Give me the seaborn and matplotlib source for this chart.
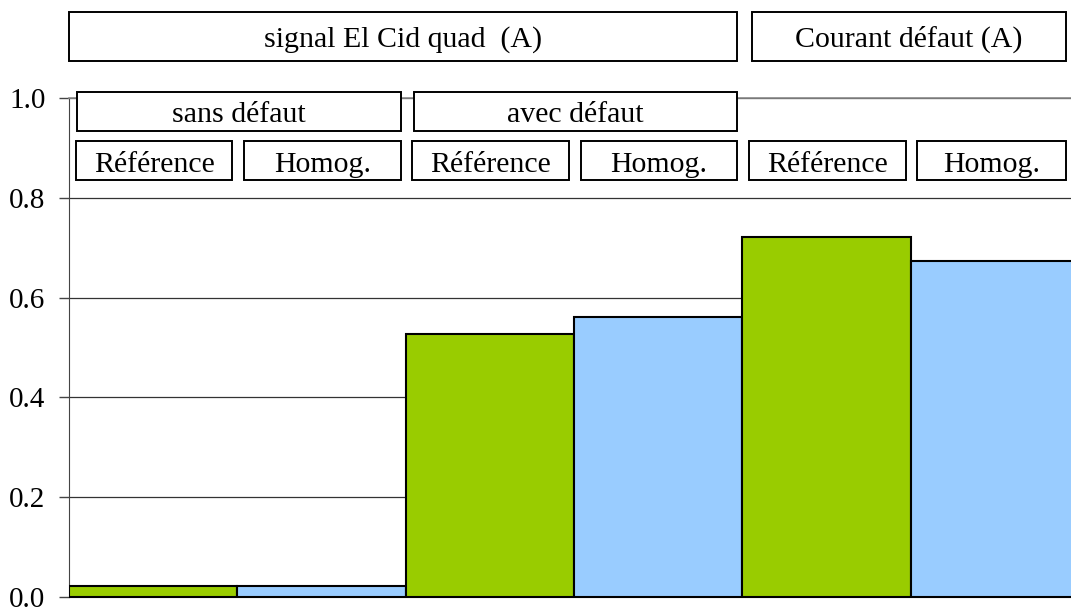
import matplotlib
matplotlib.use("Agg")
import matplotlib.pyplot as plt
import matplotlib.transforms as mtransforms
from matplotlib.patches import Rectangle
import pandas as pd
import seaborn as sns

# Data
bars = ["sd_ref", "sd_hom", "ad_ref", "ad_hom", "cd_ref", "cd_hom"]
values = [0.022, 0.022, 0.527, 0.561, 0.721, 0.674]
bar_colors = ["#99CC00", "#99CCFF", "#99CC00", "#99CCFF", "#99CC00", "#99CCFF"]
sub_labels = ["Référence", "Homog.", "Référence", "Homog.", "Référence", "Homog."]
group_labels = ["sans défaut", "avec défaut"]
top_labels = ["signal El Cid quad  (A)", "Courant défaut (A)"]
y_ticks = [0.0, 0.2, 0.4, 0.6, 0.8, 1.0]

sns.set_style("white")
plt.rcParams["font.family"] = ["Liberation Serif", "DejaVu Serif"]
plt.rcParams["text.color"] = "black"
plt.rcParams["ytick.color"] = "black"

df = pd.DataFrame({"bar": bars, "value": values})

fig = plt.figure(figsize=(10.71, 6.10), dpi=100)
ax = fig.add_axes([69 / 1071, 13 / 610, 1010 / 1071, 499 / 610])

sns.barplot(data=df, x="bar", y="value", hue="bar", palette=bar_colors,
            saturation=1, width=1.0, edgecolor="black", linewidth=1.5,
            legend=False, dodge=False, ax=ax, zorder=3)

ax.set_xlim(-0.5, 5.5)
ax.set_ylim(0, 1.0)
ax.set_yticks(y_ticks)
ax.set_yticklabels([f"{v:.1f}" for v in y_ticks], fontsize=21, color="black")
ax.set_xticks([])
ax.set_xlabel("")
ax.set_ylabel("")
ax.yaxis.grid(True, color="#333333", linewidth=0.9, zorder=0)
ax.set_axisbelow(True)
ax.tick_params(axis="y", direction="out", length=7, width=1, color="#444444",
               pad=10, left=True, labelcolor="black")
ax.spines["right"].set_visible(False)
ax.spines["top"].set_color("#888888")
ax.spines["top"].set_linewidth(1.2)
ax.spines["left"].set_color("#444444")
ax.spines["bottom"].set_color("black")

trans = mtransforms.blended_transform_factory(ax.transData, ax.transAxes)


def label_box(x0, x1, y0, y1, text, base, size=21.5):
    r = Rectangle((x0, y0), x1 - x0, y1 - y0, transform=trans, fill=True,
                  facecolor="white", edgecolor="black", linewidth=1.4,
                  clip_on=False, zorder=5)
    ax.add_patch(r)
    ax.text((x0 + x1) / 2, y0 + base, text, transform=trans,
            ha="center", va="baseline", fontsize=size, color="black",
            zorder=6, clip_on=False)


# sub boxes (one per bar), last one stops short of the figure edge
for i, lab in enumerate(sub_labels):
    label_box(i - 0.46, min(i + 0.47, 5.42), 0.836, 0.914, lab, 0.016)

# group boxes
for g, lab in enumerate(group_labels):
    c = 2 * g + 0.51
    label_box(c - 0.96, c + 0.96, 0.934, 1.012, lab, 0.018)

# top boxes
label_box(-0.5, 3.47, 1.074, 1.172, top_labels[0], 0.028)
label_box(3.56, 5.42, 1.074, 1.172, top_labels[1], 0.028)

fig.savefig("out.png", dpi=100)
